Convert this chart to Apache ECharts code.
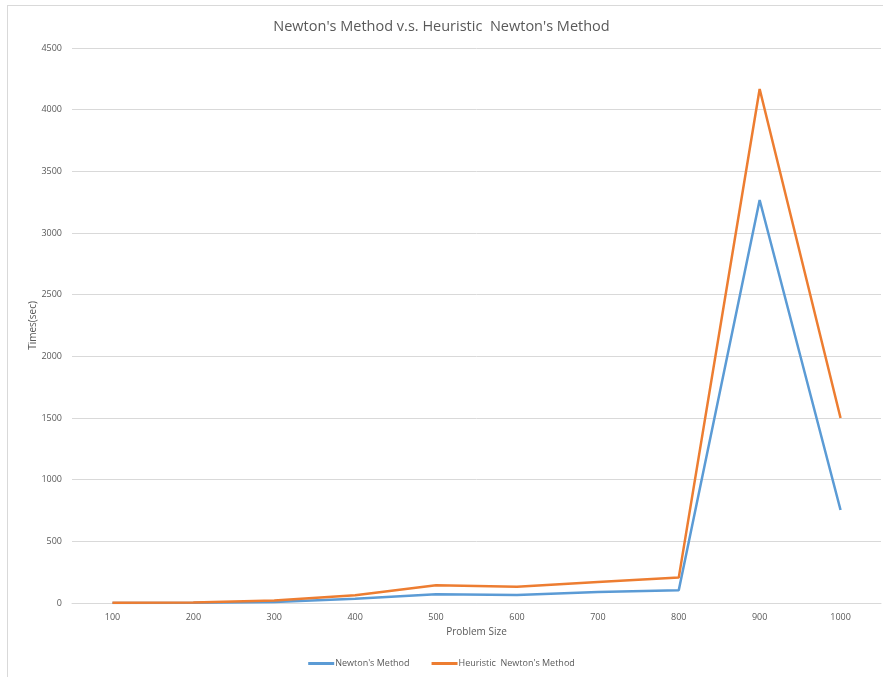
<!DOCTYPE html>
<html>
<head>
<meta charset="utf-8">
<script src="https://cdn.jsdelivr.net/npm/echarts@6/dist/echarts.min.js"></script>
<style>
  html, body { margin: 0; padding: 0; background: #fff; }
  #frame { position: absolute; left: 7px; top: 5px; width: 890px; height: 690px; border: 1px solid #d9d9d9; box-sizing: border-box; }
  #chart { position: absolute; left: 0; top: 0; width: 883px; height: 677px; }
</style>
</head>
<body>
<div id="frame"></div>
<div id="chart"></div>
<script>
// Problem sizes on the x axis
const problemSizes = ['100', '200', '300', '400', '500', '600', '700', '800', '900', '1000'];
// Run times in seconds
const newtonTimes = [1, 2, 9, 34, 70, 65, 90, 103, 3268, 754];
const heuristicTimes = [3, 5, 21, 62, 143, 131, 171, 206, 4168, 1500];
// Value axis ticks
const yMin = 0, yMax = 4500, yStep = 500;

const font = '"Open Sans", "Liberation Sans", sans-serif';
const chart = echarts.init(document.getElementById('chart'));
chart.setOption({
  animation: false,
  title: {
    text: "Newton's Method v.s. Heuristic  Newton's Method",
    left: 'center', top: 14,
    textStyle: { fontFamily: font, fontSize: 14.5, fontWeight: 'normal', color: '#595959' }
  },
  legend: {
    bottom: 4, left: 'center', itemWidth: 26, itemHeight: 3, itemGap: 22, icon: 'rect',
    textStyle: { fontFamily: font, fontSize: 9, color: '#595959', padding: [0, 0, 0, -4] },
    data: ["Newton's Method", "Heuristic  Newton's Method"]
  },
  grid: { left: 72, right: 2, top: 48, bottom: 74 },
  xAxis: {
    type: 'category', data: problemSizes, boundaryGap: true,
    name: 'Problem Size', nameLocation: 'middle', nameGap: 24, nameMoveOverlap: false,
    nameTextStyle: { fontFamily: font, fontSize: 10, color: '#595959' },
    axisLine: { lineStyle: { color: '#d9d9d9' } },
    axisTick: { show: false },
    axisLabel: { fontFamily: font, fontSize: 9, color: '#595959', margin: 10 }
  },
  yAxis: {
    type: 'value', min: yMin, max: yMax, interval: yStep,
    name: 'Times(sec)', nameLocation: 'middle', nameGap: 34, nameMoveOverlap: false,
    nameTextStyle: { fontFamily: font, fontSize: 10, color: '#595959' },
    axisLine: { show: false }, axisTick: { show: false },
    axisLabel: { fontFamily: font, fontSize: 9, color: '#595959', margin: 10, formatter: v => String(v) },
    splitLine: { lineStyle: { color: '#d9d9d9' } }
  },
  series: [
    { name: "Newton's Method", type: 'line', data: newtonTimes, showSymbol: false,
      lineStyle: { width: 2.5, color: '#5B9BD5' }, itemStyle: { color: '#5B9BD5' } },
    { name: "Heuristic  Newton's Method", type: 'line', data: heuristicTimes, showSymbol: false,
      lineStyle: { width: 2.5, color: '#ED7D31' }, itemStyle: { color: '#ED7D31' } }
  ]
});
</script>
</body>
</html>
